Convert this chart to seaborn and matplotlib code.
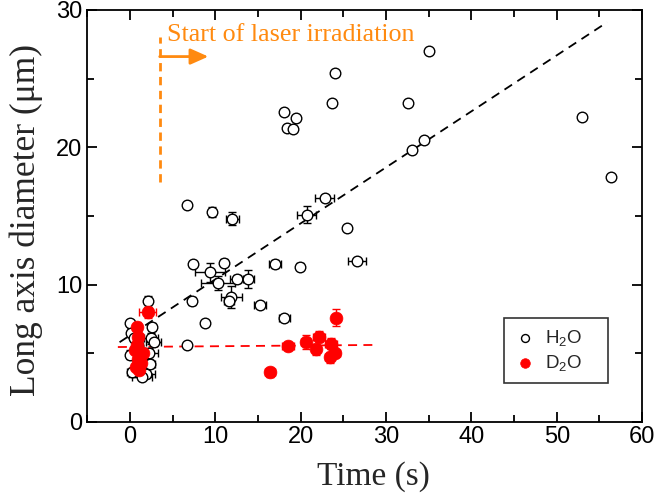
import matplotlib
matplotlib.use("Agg")
import matplotlib.pyplot as plt
import seaborn as sns
import pandas as pd

# H2O droplets: time (s), long axis diameter (um), errors
h2o_time = [35.0, 24.0, 23.7, 18.0, 19.5, 18.4, 19.1, 32.6, 33.0, 34.4, 52.9, 56.4,
            22.8, 20.7, 25.4, 6.7, 9.6, 12.0, 7.4, 11.0, 9.4, 10.3, 12.5, 13.8,
            11.9, 11.6, 7.3, 15.3, 8.8, 18.1, 17.0, 19.9, 26.6, 6.7,
            2.1, 0.0, 0.1, 0.5, 2.5, 2.6, 0.0, 0.3, 1.9, 1.4, 2.3, 2.4, 2.8, 1.0]
h2o_diam = [27.0, 25.4, 23.2, 22.6, 22.1, 21.4, 21.3, 23.2, 19.8, 20.5, 22.2, 17.8,
            16.3, 15.1, 14.1, 15.8, 15.3, 14.8, 11.5, 11.6, 10.9, 10.1, 10.4, 10.4,
            9.1, 8.8, 8.8, 8.5, 7.2, 7.6, 11.5, 11.3, 11.7, 5.6,
            8.8, 7.2, 6.5, 6.1, 6.1, 6.9, 4.9, 3.6, 3.5, 3.3, 5.0, 4.2, 5.8, 5.5]
h2o_xerr = [0, 0, 0, 0, 0, 0, 0, 0, 0, 0, 0, 0,
            1.1, 1.1, 0, 0, 0.3, 0.75, 0.2, 0.2, 1.8, 2.0, 0.8, 0.8,
            1.2, 0.6, 0.2, 0.7, 0, 0.6, 0.7, 0.2, 1.1, 0,
            0.2, 0.3, 0.3, 0.4, 0.8, 0.3, 0.3, 0.6, 1.0, 1.2, 1.0, 0.6, 0.9, 0.5]
h2o_yerr = [0, 0, 0, 0, 0, 0, 0, 0, 0, 0, 0, 0,
            0.2, 0.6, 0, 0, 0.35, 0.5, 0.25, 0.25, 0.7, 0.5, 0.3, 0.65,
            0.8, 0.3, 0.3, 0.15, 0, 0.2, 0.3, 0.25, 0.2, 0,
            0.4, 0.2, 0.3, 0.3, 0.4, 0.3, 0.3, 0.3, 0.3, 0.2, 0.4, 0.3, 0.3, 0.3]

# D2O droplets
d2o_time = [2.1, 0.8, 1.0, 0.6, 1.2, 0.9, 1.3, 0.7, 1.1, 1.5, 0.8,
            16.4, 18.5, 20.6, 22.2, 21.8, 23.6, 24.0, 23.4, 24.2]
d2o_diam = [8.0, 6.9, 6.2, 5.2, 4.9, 4.6, 4.3, 4.0, 3.8, 5.0, 5.6,
            3.6, 5.5, 5.8, 6.2, 5.3, 5.7, 5.0, 4.7, 7.6]
d2o_xerr = [1.0, 0.5, 0.5, 0.4, 0.6, 0.5, 0.4, 0.4, 0.5, 0.4, 0.3,
            0.6, 0.7, 0.5, 0.7, 0.5, 0.7, 0.6, 0.5, 0.4]
d2o_yerr = [0.4, 0.4, 0.4, 0.3, 0.4, 0.4, 0.3, 0.4, 0.3, 0.3, 0.3,
            0.3, 0.3, 0.5, 0.4, 0.4, 0.4, 0.3, 0.4, 0.6]

# fitted trend lines (end points)
h2o_fit_x = [-1.2, 55.9]
h2o_fit_y = [5.8, 29.1]
d2o_fit_x = [-1.4, 28.4]
d2o_fit_y = [5.45, 5.6]

# laser start marker
laser_x = 3.5
laser_y = [17.5, 28.0]
arrow_x = [3.5, 9.2]
arrow_y = 26.6

orange = '#ff8a10'

df_h = pd.DataFrame({'time': h2o_time, 'diam': h2o_diam, 'xerr': h2o_xerr, 'yerr': h2o_yerr})
df_d = pd.DataFrame({'time': d2o_time, 'diam': d2o_diam, 'xerr': d2o_xerr, 'yerr': d2o_yerr})

sns.set_theme(style="ticks")
plt.rcParams['font.family'] = ['Liberation Sans', 'DejaVu Sans']
plt.rcParams['mathtext.fontset'] = 'custom'
plt.rcParams['mathtext.rm'] = 'Liberation Sans'
plt.rcParams['mathtext.it'] = 'Liberation Sans:italic'

fig = plt.figure(figsize=(6.6, 4.94), dpi=100)
ax = fig.add_axes([0.132, 0.146, 0.841, 0.834])

# trend lines
ax.plot(h2o_fit_x, h2o_fit_y, color='black', ls=(0, (5, 3.5)), lw=1.3, zorder=1)
ax.plot(d2o_fit_x, d2o_fit_y, color='red', ls=(0, (5, 3.5)), lw=1.3, zorder=1)

# error bars
ax.errorbar(df_h['time'], df_h['diam'], xerr=df_h['xerr'], yerr=df_h['yerr'],
            fmt='none', ecolor='black', elinewidth=1, capsize=3, capthick=1, zorder=2)
ax.errorbar(df_d['time'], df_d['diam'], xerr=df_d['xerr'], yerr=df_d['yerr'],
            fmt='none', ecolor='red', elinewidth=1, capsize=3, capthick=1, zorder=2)

# points
sns.scatterplot(data=df_h, x='time', y='diam', ax=ax, marker='o', s=58,
                facecolor='white', edgecolor='black', linewidth=1, label=r'H$_2$O    ', zorder=3)
sns.scatterplot(data=df_d, x='time', y='diam', ax=ax, marker='o', s=85,
                color='red', edgecolor='red', linewidth=0.5, label=r'D$_2$O    ', zorder=4)

# laser irradiation annotation
ax.plot([laser_x, laser_x], laser_y, color=orange, ls=(0, (3, 2)), lw=2, zorder=1)
ax.annotate('', xy=(arrow_x[1], arrow_y), xytext=(arrow_x[0], arrow_y),
            arrowprops=dict(arrowstyle='-|>,head_length=0.9,head_width=0.4',
                            color=orange, lw=2, shrinkA=0, shrinkB=0))
ax.text(4.3, 28.2, 'Start of laser irradiation', color=orange, fontsize=18.7,
        family=['Liberation Serif', 'DejaVu Serif'], va='center', ha='left')

ax.set_xlim(-5, 60)
ax.set_ylim(0, 30)
ax.set_xticks(range(0, 61, 10))
ax.set_xticks(range(-5, 61, 5), minor=True)
ax.set_yticks(range(0, 31, 10))
ax.set_yticks(range(0, 31, 5), minor=True)
ax.tick_params(which='both', direction='in', top=True, right=True, width=1.3,
               labelsize=17, colors='black')
ax.tick_params(which='major', length=7)
ax.tick_params(which='minor', length=5)
ax.tick_params(axis='x', pad=3)
for sp in ax.spines.values():
    sp.set_linewidth(1.3)
    sp.set_color('black')

serif = ['Liberation Serif', 'DejaVu Serif']
ax.set_xlabel('Time (s)', fontsize=24, family=serif, labelpad=8)
ax.xaxis.set_label_coords(0.515, -0.095)
ax.xaxis.label.set_va('top')
ax.set_ylabel('Long axis diameter (μm)', fontsize=25.5, family=serif, labelpad=2)
ax.yaxis.set_label_coords(-0.08, 0.49)

leg = ax.legend(loc='lower right', bbox_to_anchor=(0.939, 0.095), borderaxespad=0,
                fontsize=13.5, frameon=True, fancybox=False, edgecolor='black',
                handletextpad=0.43, borderpad=0.5, labelspacing=0.3,
                handlelength=1.28, markerscale=0.75)
leg.get_frame().set_linewidth(1.2)

fig.savefig('out.png', dpi=100)
